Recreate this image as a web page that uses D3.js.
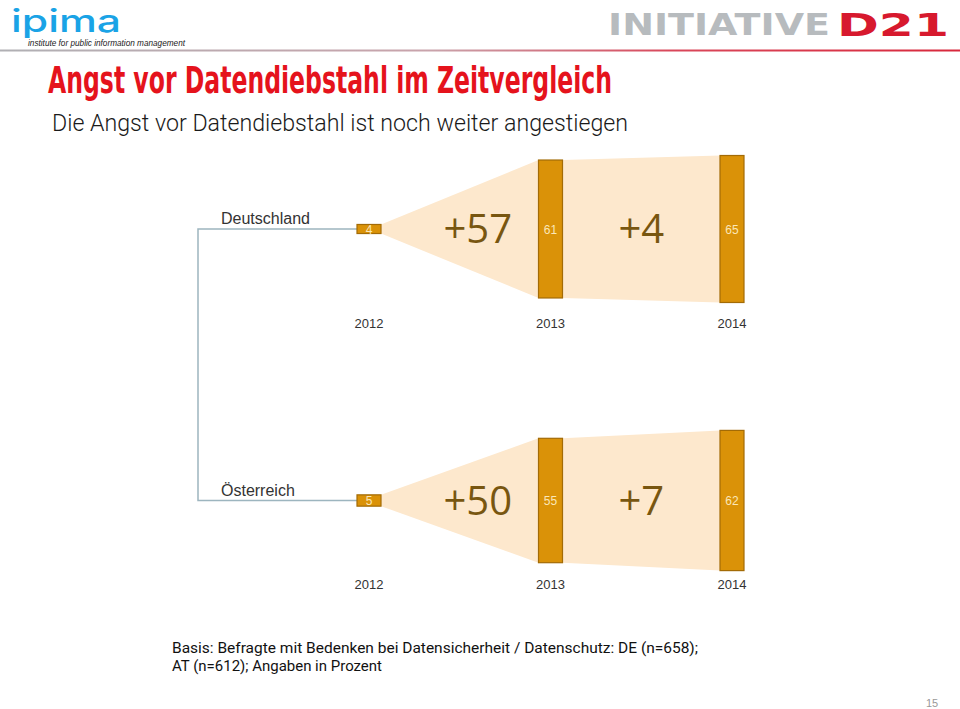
<!DOCTYPE html>
<html><head><meta charset="utf-8">
<script src="https://cdn.jsdelivr.net/npm/d3@7"></script>
<style>html,body{margin:0;padding:0;background:#fff;}svg{display:block;}</style>
</head><body><svg id="c" width="960" height="709"></svg>
<script>
// ---- data ----
const countries = ["Deutschland", "Österreich"];
const years = ["2012", "2013", "2014"];
const valuesDE = [4, 61, 65];
const valuesAT = [5, 55, 62];
const deltaLabelsDE = ["+57", "+4"];
const deltaLabelsAT = ["+50", "+7"];
const series = [valuesDE, valuesAT];
const deltaLabels = [deltaLabelsDE, deltaLabelsAT];

// ---- layout ----
const svg = d3.select("#c");
const x = d3.scalePoint().domain(years).range([369, 732]);
const yCenter = d3.scalePoint().domain(countries).range([229, 500.5]);
const h = d3.scaleLinear().domain([0, 65]).range([0, 147]);
const barW = 24;
const yearOffset = [94, 83];
const labelFont = "'Liberation Sans', Arial, sans-serif";

// header line gradient
const defs = svg.append("defs");
const g1 = defs.append("linearGradient").attr("id", "hl").attr("x1", "0").attr("x2", "1");
g1.append("stop").attr("offset", "0").attr("stop-color", "#b0b0b4");
g1.append("stop").attr("offset", "0.45").attr("stop-color", "#c9a3ab");
g1.append("stop").attr("offset", "0.7").attr("stop-color", "#d9475a");
g1.append("stop").attr("offset", "1").attr("stop-color", "#d8283c");
svg.append("rect").attr("x", 0).attr("y", 49.5).attr("width", 960).attr("height", 2).attr("fill", "url(#hl)");

// ipima logo
svg.append("text").attr("x", 11).attr("y", 32).attr("font-family", "Inter, Arial, sans-serif")
  .attr("font-size", 31).attr("font-weight", 500).attr("fill", "#1aa3e6")
  .attr("textLength", 110).attr("lengthAdjust", "spacingAndGlyphs").text("ipima");
svg.append("text").attr("x", 28).attr("y", 46).attr("font-family", "'Liberation Sans', Arial, sans-serif")
  .attr("font-size", 9).attr("font-style", "italic").attr("fill", "#222")
  .attr("textLength", 157).attr("lengthAdjust", "spacingAndGlyphs").text("institute for public information management");

// Initiative D21 logo
svg.append("text").attr("x", 608).attr("y", 35).attr("font-family", "'DejaVu Sans', sans-serif")
  .attr("font-size", 30).attr("font-weight", 700).attr("fill", "#b7bbbe")
  .attr("textLength", 222).attr("lengthAdjust", "spacingAndGlyphs").text("INITIATIVE");
svg.append("text").attr("x", 837).attr("y", 36).attr("font-family", "'DejaVu Sans', sans-serif")
  .attr("font-size", 32).attr("font-weight", 700).attr("fill", "#d7192e")
  .attr("textLength", 112).attr("lengthAdjust", "spacingAndGlyphs").text("D21");

// title & subtitle
svg.append("text").attr("x", 48).attr("y", 93).attr("font-family", "'Liberation Sans Narrow', 'DejaVu Sans Condensed', sans-serif")
  .attr("font-size", 38).attr("font-weight", 700).attr("fill", "#e5131c")
  .attr("textLength", 564).attr("lengthAdjust", "spacingAndGlyphs").text("Angst vor Datendiebstahl im Zeitvergleich");
svg.append("text").attr("x", 52).attr("y", 131).attr("font-family", "Roboto, sans-serif")
  .attr("font-size", 23).attr("font-weight", 300).attr("fill", "#1a1a1a")
  .attr("textLength", 576).attr("lengthAdjust", "spacingAndGlyphs").text("Die Angst vor Datendiebstahl ist noch weiter angestiegen");

// connector lines
const cy0 = yCenter(countries[0]), cy1 = yCenter(countries[1]);
const xLeft = 198, xRight = x(years[0]) - barW / 2;
svg.append("path")
  .attr("d", `M${xRight},${cy0}H${xLeft}V${cy1}H${xRight}`)
  .attr("fill", "none").attr("stroke", "#9db5bf").attr("stroke-width", 1.5);

countries.forEach((c, ci) => {
  const vals = series[ci];
  const cy = yCenter(c);
  const g = svg.append("g");
  // country label
  g.append("text").attr("x", 221).attr("y", cy - 5).attr("font-family", labelFont)
    .attr("font-size", 16).attr("fill", "#333").text(c);
  // wedges
  for (let i = 0; i < vals.length - 1; i++) {
    const xa = x(years[i]) + barW / 2, xb = x(years[i + 1]) - barW / 2;
    const ha = h(vals[i]) / 2, hb = h(vals[i + 1]) / 2;
    g.append("path")
      .attr("d", `M${xa},${cy - ha}L${xb},${cy - hb}L${xb},${cy + hb}L${xa},${cy + ha}Z`)
      .attr("fill", "#fde8cd");
    const mid = (x(years[i]) + x(years[i + 1])) / 2 + (i === 0 ? 18 : 0);
    g.append("text").attr("x", mid).attr("y", cy + 14).attr("text-anchor", "middle")
      .attr("font-family", "'Open Sans', sans-serif").attr("font-weight", 400)
      .attr("font-size", 40).attr("fill", "#785610").text(deltaLabels[ci][i]);
  }
  // bars
  g.selectAll("rect.bar").data(vals).enter().append("rect")
    .attr("x", (d, i) => x(years[i]) - barW / 2)
    .attr("y", d => cy - h(d) / 2)
    .attr("width", barW).attr("height", d => h(d))
    .attr("fill", "#da9208").attr("stroke", "#a36b06").attr("stroke-width", 1.2);
  g.selectAll("text.val").data(vals).enter().append("text")
    .attr("x", (d, i) => x(years[i])).attr("y", cy + 4.5)
    .attr("text-anchor", "middle").attr("font-family", labelFont)
    .attr("font-size", 12).attr("fill", "#fbe7b8").text(d => d);
  // year labels
  g.selectAll("text.yr").data(years).enter().append("text")
    .attr("x", d => x(d)).attr("y", cy + yearOffset[ci] + 5)
    .attr("text-anchor", "middle").attr("font-family", labelFont)
    .attr("font-size", 13).attr("fill", "#333").text(d => d);
});

// footer
const ff = "Roboto, 'Liberation Sans', sans-serif";
svg.append("text").attr("x", 172).attr("y", 653).attr("font-family", ff).attr("font-size", 14.5).attr("fill", "#111")
  .attr("textLength", 526).attr("lengthAdjust", "spacingAndGlyphs")
  .text("Basis: Befragte mit Bedenken bei Datensicherheit / Datenschutz: DE (n=658);");
svg.append("text").attr("x", 172).attr("y", 671).attr("font-family", ff).attr("font-size", 14.5).attr("fill", "#111")
  .attr("textLength", 210).attr("lengthAdjust", "spacingAndGlyphs")
  .text("AT (n=612); Angaben in Prozent");
svg.append("text").attr("x", 932).attr("y", 707).attr("text-anchor", "middle").attr("font-family", labelFont)
  .attr("font-size", 11).attr("fill", "#999").text("15");
</script></body></html>
